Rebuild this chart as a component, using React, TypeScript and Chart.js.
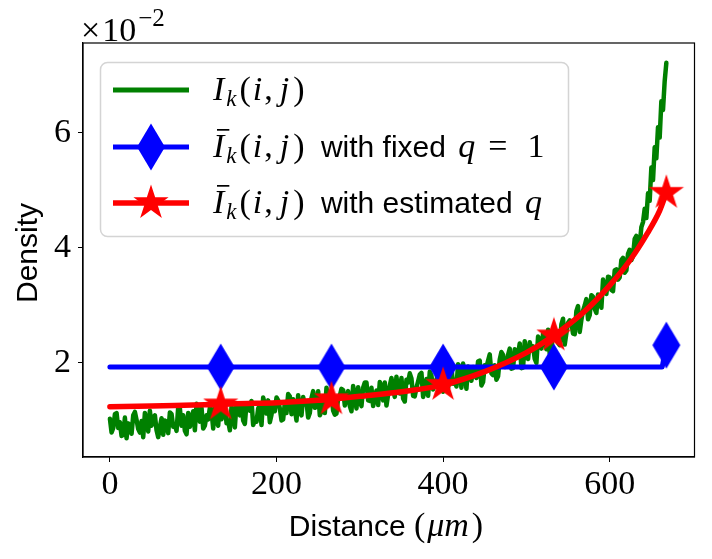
import React, { useEffect, useRef } from "react";
import { Chart, registerables } from "chart.js";
Chart.register(...registerables);

const W = 712;
const H = 559;

// Measured density I_k(i,j), sampled every DIST_STEP µm starting at 0
const DIST_STEP = 2;
const measuredDensity = [
  0.0103, 0.0079, 0.0087, 0.0111, 0.0113, 0.0087, 0.0097, 0.0073, 0.0075, 0.0105, 0.0069, 0.0095, 0.0091, 0.0077, 0.0109, 0.0115, 0.0101, 0.0085, 0.0079, 0.0099,
  0.0071, 0.0113, 0.0099, 0.0081, 0.0117, 0.0091, 0.0105, 0.0109, 0.0083, 0.0071, 0.0089, 0.0104, 0.0075, 0.0100, 0.0098, 0.0078, 0.0114, 0.0111, 0.0089, 0.0092,
  0.0082, 0.0123, 0.0121, 0.0091, 0.0109, 0.0082, 0.0076, 0.0113, 0.0089, 0.0104, 0.0116, 0.0083, 0.0129, 0.0110, 0.0098, 0.0122, 0.0086, 0.0091, 0.0109, 0.0102,
  0.0122, 0.0116, 0.0086, 0.0129, 0.0099, 0.0091, 0.0131, 0.0102, 0.0114, 0.0129, 0.0095, 0.0099, 0.0083, 0.0124, 0.0118, 0.0088, 0.0130, 0.0115, 0.0109, 0.0128,
  0.0100, 0.0094, 0.0130, 0.0121, 0.0117, 0.0134, 0.0092, 0.0100, 0.0098, 0.0121, 0.0127, 0.0092, 0.0140, 0.0128, 0.0112, 0.0135, 0.0097, 0.0110, 0.0128, 0.0116,
  0.0140, 0.0135, 0.0121, 0.0100, 0.0102, 0.0131, 0.0113, 0.0146, 0.0142, 0.0111, 0.0137, 0.0120, 0.0100, 0.0144, 0.0114, 0.0109, 0.0141, 0.0128, 0.0132, 0.0105,
  0.0113, 0.0139, 0.0151, 0.0122, 0.0124, 0.0151, 0.0109, 0.0116, 0.0142, 0.0113, 0.0157, 0.0140, 0.0130, 0.0149, 0.0117, 0.0110, 0.0112, 0.0139, 0.0143, 0.0155,
  0.0153, 0.0126, 0.0140, 0.0151, 0.0125, 0.0116, 0.0160, 0.0141, 0.0121, 0.0158, 0.0134, 0.0125, 0.0157, 0.0166, 0.0166, 0.0135, 0.0134, 0.0157, 0.0125, 0.0142,
  0.0152, 0.0127, 0.0167, 0.0158, 0.0135, 0.0166, 0.0126, 0.0145, 0.0161, 0.0174, 0.0154, 0.0141, 0.0176, 0.0153, 0.0147, 0.0174, 0.0138, 0.0133, 0.0171, 0.0166,
  0.0182, 0.0173, 0.0143, 0.0142, 0.0157, 0.0168, 0.0180, 0.0183, 0.0141, 0.0154, 0.0172, 0.0143, 0.0185, 0.0178, 0.0154, 0.0169, 0.0166, 0.0193, 0.0185, 0.0156,
  0.0150, 0.0179, 0.0177, 0.0156, 0.0196, 0.0191, 0.0164, 0.0171, 0.0159, 0.0198, 0.0190, 0.0157, 0.0199, 0.0184, 0.0155, 0.0194, 0.0184, 0.0169, 0.0193, 0.0180,
  0.0174, 0.0203, 0.0204, 0.0161, 0.0167, 0.0196, 0.0193, 0.0204, 0.0215, 0.0182, 0.0179, 0.0196, 0.0171, 0.0177, 0.0206, 0.0219, 0.0214, 0.0193, 0.0194, 0.0214,
  0.0225, 0.0190, 0.0191, 0.0224, 0.0209, 0.0215, 0.0234, 0.0191, 0.0192, 0.0238, 0.0209, 0.0207, 0.0236, 0.0222, 0.0229, 0.0207, 0.0200, 0.0246, 0.0239, 0.0225,
  0.0251, 0.0245, 0.0224, 0.0258, 0.0216, 0.0222, 0.0257, 0.0249, 0.0249, 0.0235, 0.0231, 0.0267, 0.0277, 0.0232, 0.0252, 0.0270, 0.0274, 0.0269, 0.0251, 0.0250,
  0.0290, 0.0299, 0.0254, 0.0275, 0.0291, 0.0300, 0.0311, 0.0276, 0.0283, 0.0318, 0.0315, 0.0294, 0.0287, 0.0319, 0.0318, 0.0296, 0.0345, 0.0327, 0.0320, 0.0350,
  0.0349, 0.0327, 0.0325, 0.0361, 0.0363, 0.0345, 0.0349, 0.0379, 0.0383, 0.0357, 0.0361, 0.0390, 0.0397, 0.0379, 0.0386, 0.0416, 0.0421, 0.0403, 0.0406, 0.0436,
  0.0445, 0.0468, 0.0452, 0.0495, 0.0482, 0.0540, 0.0518, 0.0575, 0.0556, 0.0610, 0.0592, 0.0655, 0.0640, 0.0690, 0.0722,
];

// Ī_k(i,j) with fixed q = 1
const fixedQDistance = [0, 133, 266, 400, 533, 663, 668];
const fixedQDensity = [0.0193, 0.0193, 0.0193, 0.0193, 0.0193, 0.0193, 0.0231];

// Ī_k(i,j) with estimated q
const estQDistance = [0, 50, 100, 133, 150, 200, 250, 266, 300, 350, 400, 450, 500, 533, 570, 600, 625, 645, 660, 668];
const estQDensity = [
  0.0124, 0.0125, 0.0127, 0.0128, 0.0129, 0.0131, 0.0135, 0.0137, 0.0142, 0.0150,
  0.0162, 0.0185, 0.0218, 0.0248, 0.0290, 0.0335, 0.0380, 0.0425, 0.0465, 0.0496,
];

const markerDistances = [133, 266, 400, 533, 668];

const xTicks = [0, 200, 400, 600];
const yTicks = [0.02, 0.04, 0.06];
const X_MIN = -32.3;
const X_MAX = 701.8;
const Y_MIN = 0.00365;
const Y_MAX = 0.07565;

const SERIF = '"Liberation Serif"';
const SANS = '"Liberation Sans"';
const MI = `italic 34px ${SERIF}`;
const RM = `34px ${SERIF}`;
const SUB = `italic 23px ${SERIF}`;
const SF = `30px ${SANS}`;

type Seg = { t: string; f: string; dy?: number; bar?: boolean; gap?: number };

function richWidth(ctx: CanvasRenderingContext2D, segs: Seg[]) {
  let w = 0;
  for (const s of segs) {
    ctx.font = s.f;
    w += ctx.measureText(s.t).width + (s.gap || 0);
  }
  return w;
}

function drawRich(ctx: CanvasRenderingContext2D, x: number, y: number, segs: Seg[]) {
  let cx = x;
  for (const s of segs) {
    ctx.font = s.f;
    ctx.fillText(s.t, cx, y + (s.dy || 0));
    const w = ctx.measureText(s.t).width;
    if (s.bar) ctx.fillRect(cx + 4, y - 28, w + 1, 1.7);
    cx += w + (s.gap || 0);
  }
  return cx;
}

const ikSegs = (bar: boolean): Seg[] => [
  { t: "I", f: MI, bar, gap: 2 },
  { t: "k", f: SUB, dy: 6, gap: 3 },
  { t: "(", f: RM, gap: 2 },
  { t: "i", f: MI, gap: 2 },
  { t: ",", f: RM, gap: 7 },
  { t: "j", f: MI, gap: 4 },
  { t: ")", f: RM },
];

function makeDiamond(): HTMLCanvasElement {
  const c = document.createElement("canvas");
  c.width = 30;
  c.height = 50;
  const g = c.getContext("2d")!;
  g.fillStyle = "#0000ff";
  g.beginPath();
  g.moveTo(15, 1.5);
  g.lineTo(29, 25);
  g.lineTo(15, 48.5);
  g.lineTo(1, 25);
  g.closePath();
  g.fill();
  return c;
}

function makeStar(): HTMLCanvasElement {
  const c = document.createElement("canvas");
  c.width = 38;
  c.height = 38;
  const g = c.getContext("2d")!;
  g.fillStyle = "#ff0000";
  g.beginPath();
  const R = 18.5;
  const r = R * 0.382;
  for (let k = 0; k < 10; k++) {
    const a = -Math.PI / 2 + (k * Math.PI) / 5;
    const rr = k % 2 === 0 ? R : r;
    g.lineTo(19 + rr * Math.cos(a), 19 + rr * Math.sin(a));
  }
  g.closePath();
  g.fill();
  return c;
}

export default function App() {
  const ref = useRef<HTMLCanvasElement>(null);

  useEffect(() => {
    if (!ref.current) return;
    const diamond = makeDiamond();
    const star = makeStar();

    const isMarker = (c: any) => c && c.raw && markerDistances.includes(c.raw.x);

    const overlay = {
      id: "overlay",
      afterDraw(chart: any) {
        const ctx: CanvasRenderingContext2D = chart.ctx;
        const a = chart.chartArea;
        ctx.save();
        ctx.strokeStyle = "#000";
        ctx.lineWidth = 1.2;
        ctx.strokeRect(a.left, a.top, a.right - a.left, a.bottom - a.top);

        ctx.fillStyle = "#000";
        ctx.textBaseline = "alphabetic";
        ctx.textAlign = "left";
        // offset text
        drawRich(ctx, 81, 41, [
          { t: "×", f: `34px ${SERIF}`, gap: 2 },
          { t: "10", f: `34px ${SERIF}`, gap: 2 },
          { t: "−2", f: `25px ${SERIF}`, dy: -15 },
        ]);

        // x title
        const xt: Seg[] = [
          { t: "Distance ", f: SF },
          { t: "(", f: RM, gap: 2 },
          { t: "μm", f: MI, gap: 3 },
          { t: ")", f: RM },
        ];
        const xw = richWidth(ctx, xt);
        drawRich(ctx, 386 - xw / 2, 536, xt);

        // y title
        ctx.save();
        ctx.translate(37, 253);
        ctx.rotate(-Math.PI / 2);
        ctx.font = SF;
        ctx.textAlign = "center";
        ctx.fillText("Density", 0, 0);
        ctx.restore();

        // legend box
        ctx.beginPath();
        (ctx as any).roundRect(100.5, 62.5, 468, 174, 7);
        ctx.fillStyle = "rgba(255,255,255,0.85)";
        ctx.fill();
        ctx.strokeStyle = "#d4d4d4";
        ctx.lineWidth = 1.5;
        ctx.stroke();

        const rows = [90, 147, 203];
        const colors = ["#008000", "#0000ff", "#ff0000"];
        const widths = [5, 5, 5.5];
        rows.forEach((y, i) => {
          ctx.beginPath();
          ctx.moveTo(113, y);
          ctx.lineTo(189, y);
          ctx.strokeStyle = colors[i];
          ctx.lineWidth = widths[i];
          ctx.stroke();
        });
        ctx.drawImage(diamond, 151 - diamond.width / 2, 147 - diamond.height / 2);
        ctx.drawImage(star, 151 - star.width / 2, 203 - star.height / 2);

        ctx.fillStyle = "#000";
        drawRich(ctx, 213, 100, ikSegs(false));
        drawRich(ctx, 213, 157, [
          ...ikSegs(true),
          { t: "", f: SF, gap: 8 },
          { t: " with fixed ", f: SF, gap: 4 },
          { t: "q", f: MI, gap: 13 },
          { t: "=", f: RM, gap: 20 },
          { t: "1", f: RM },
        ]);
        drawRich(ctx, 213, 213, [
          ...ikSegs(true),
          { t: "", f: SF, gap: 8 },
          { t: " with estimated ", f: SF, gap: 4 },
          { t: "q", f: MI },
        ]);
        ctx.restore();
      },
    };

    const chart = new Chart(ref.current, {
      type: "scatter",
      data: {
        datasets: [
          {
            label: "I_k(i,j)",
            data: measuredDensity.map((y, i) => ({ x: i * DIST_STEP, y })),
            showLine: true,
            borderColor: "#008000",
            backgroundColor: "#008000",
            borderWidth: 4.5,
            borderJoinStyle: "round",
            borderCapStyle: "round",
            pointRadius: 0,
            order: 3,
          },
          {
            label: "fixed q",
            data: fixedQDistance.map((x, i) => ({ x, y: fixedQDensity[i] })),
            showLine: true,
            borderColor: "#0000ff",
            backgroundColor: "#0000ff",
            borderWidth: 5,
            borderJoinStyle: "round",
            borderCapStyle: "round",
            pointStyle: diamond as any,
            pointRadius: (c: any) => (isMarker(c) ? 12 : 0),
            order: 2,
          },
          {
            label: "estimated q",
            data: estQDistance.map((x, i) => ({ x, y: estQDensity[i] })),
            showLine: true,
            borderColor: "#ff0000",
            backgroundColor: "#ff0000",
            borderWidth: 5.5,
            borderCapStyle: "round",
            cubicInterpolationMode: "monotone",
            pointStyle: star as any,
            pointRadius: (c: any) => (isMarker(c) ? 12 : 0),
            order: 1,
          },
        ],
      } as any,
      options: {
        animation: false,
        responsive: false,
        devicePixelRatio: 1,
        events: [],
        layout: { padding: { left: 0, right: 16, top: 43, bottom: 0 } },
        plugins: { legend: { display: false }, tooltip: { enabled: false } },
        scales: {
          x: {
            type: "linear",
            min: X_MIN,
            max: X_MAX,
            afterBuildTicks: (s: any) => {
              s.ticks = xTicks.map((v) => ({ value: v }));
            },
            afterFit: (s: any) => {
              s.height = 102;
            },
            grid: { drawOnChartArea: false, drawTicks: true, tickLength: 5, color: "#000", lineWidth: 1 },
            border: { display: true, color: "#000", width: 1.2 },
            ticks: {
              autoSkip: false,
              maxRotation: 0,
              padding: 3,
              color: "#000",
              font: { family: "Liberation Serif", size: 34 },
              callback: (v: any) => String(v),
            },
          },
          y: {
            type: "linear",
            min: Y_MIN,
            max: Y_MAX,
            afterBuildTicks: (s: any) => {
              s.ticks = yTicks.map((v) => ({ value: v }));
            },
            afterFit: (s: any) => {
              s.width = 83;
            },
            grid: { drawOnChartArea: false, drawTicks: true, tickLength: 5, color: "#000", lineWidth: 1 },
            border: { display: true, color: "#000", width: 1.2 },
            ticks: {
              autoSkip: false,
              padding: 7,
              color: "#000",
              font: { family: "Liberation Serif", size: 34 },
              callback: (v: any) => String(Math.round(Number(v) * 100)),
            },
          },
        },
      } as any,
      plugins: [overlay],
    });
    return () => chart.destroy();
  }, []);

  return (
    <div style={{ position: "fixed", left: 0, top: 0, width: W, height: H, background: "#fff" }}>
      <canvas ref={ref} width={W} height={H} style={{ width: W, height: H, display: "block" }} />
    </div>
  );
}
